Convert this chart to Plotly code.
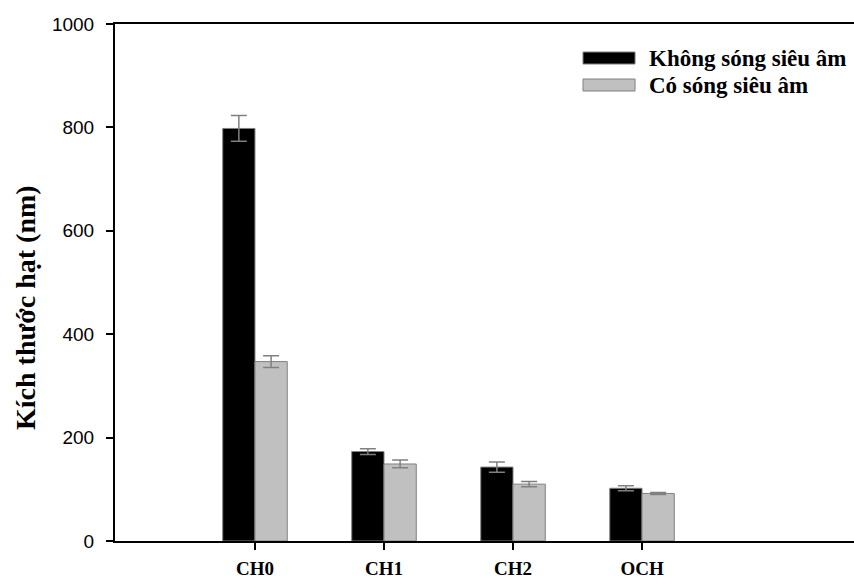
import plotly.graph_objects as go

categories = ["CH0", "CH1", "CH2", "OCH"]
series_names = ["Không sóng siêu âm", "Có sóng siêu âm"]
no_ultrasound = [798, 173, 143, 102]
no_ultrasound_err = [25, 5.5, 10, 5]
with_ultrasound = [347, 149, 110, 92]
with_ultrasound_err = [11.5, 7.5, 5, 2]
y_ticks = [0, 200, 400, 600, 800, 1000]

colors = ["#000000", "#c0c0c0"]
serif = "Liberation Serif, Times New Roman, serif"
sans = "Liberation Sans, Arial, sans-serif"

fig = go.Figure()
for name, vals, errs, col in zip(series_names, [no_ultrasound, with_ultrasound],
                                 [no_ultrasound_err, with_ultrasound_err], colors):
    fig.add_trace(go.Bar(
        x=categories, y=vals, name=name,
        marker=dict(color=col, line=dict(color="#808080", width=1)),
        error_y=dict(type="data", array=errs, visible=True,
                     color="#808080", thickness=1.5, width=8),
        showlegend=False,
    ))

fig.update_layout(
    width=854, height=580,
    margin=dict(l=115, r=0, t=24, b=39, autoexpand=False),
    paper_bgcolor="white", plot_bgcolor="white",
    barmode="group", bargap=0.5, bargroupgap=0,
    xaxis=dict(
        range=[-1.085, 4.643], showline=True, linecolor="black", linewidth=2,
        mirror=True, ticks="outside", ticklen=7, tickwidth=1.5, tickcolor="black",
        showgrid=False, zeroline=False, ticklabelstandoff=2, automargin=False,
        tickfont=dict(family=serif, size=19, color="black", weight="bold"),
    ),
    yaxis=dict(
        range=[0, 1000], tickvals=y_ticks, showline=True, linecolor="black",
        linewidth=2, ticks="outside", ticklen=7, tickwidth=1.5, tickcolor="black",
        showgrid=False, zeroline=False, ticklabelstandoff=8, automargin=False,
        tickfont=dict(family=sans, size=19, color="black"),
    ),
    annotations=[
        dict(text="<b>Kích thước hạt (nm)</b>", xref="paper", yref="paper",
             x=-0.1218, y=0.4526, xanchor="center", yanchor="middle",
             textangle=-90, showarrow=False,
             font=dict(family=serif, size=28, color="black")),
        dict(text="<b>" + series_names[0] + "</b>", xref="paper", yref="paper",
             x=0.7199, y=0.9342, xanchor="left", yanchor="middle", showarrow=False,
             font=dict(family=serif, size=23, color="black")),
        dict(text="<b>" + series_names[1] + "</b>", xref="paper", yref="paper",
             x=0.7199, y=0.8820, xanchor="left", yanchor="middle", showarrow=False,
             font=dict(family=serif, size=23, color="black")),
    ],
    shapes=[
        dict(type="rect", xref="paper", yref="paper", x0=0.6333, x1=0.7037,
             y0=0.9226, y1=0.9458, fillcolor=colors[0],
             line=dict(color="#808080", width=1)),
        dict(type="rect", xref="paper", yref="paper", x0=0.6333, x1=0.7037,
             y0=0.8704, y1=0.8936, fillcolor=colors[1],
             line=dict(color="#808080", width=1)),
    ],
)

fig.write_html("out.html", config={"displayModeBar": False},
               post_script="document.body.style.margin='0';document.body.style.overflow='hidden';")
